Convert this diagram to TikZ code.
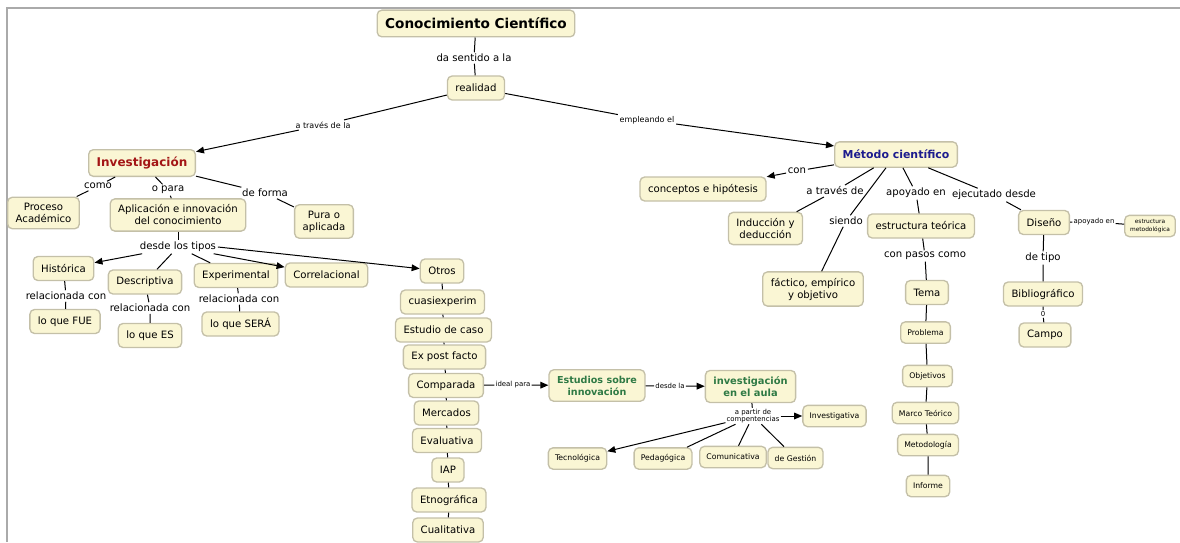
\documentclass[tikz,border=0pt]{standalone}
\usepackage{fontspec}
\setmainfont{DejaVu Sans}
\usetikzlibrary{arrows.meta}

\definecolor{cmapfill}{HTML}{FAF6D4}
\definecolor{cmapedge}{HTML}{C4C0A8}
\definecolor{cmapred}{HTML}{A31515}
\definecolor{cmapblue}{HTML}{1C1C8E}
\definecolor{cmapgreen}{HTML}{2F7A45}

\tikzset{every picture/.style={line width=0.75pt}}
\tikzset{
  concept/.style={draw=cmapedge, line width=1pt, fill=cmapfill, rounded corners=3.5pt,
    align=center, inner xsep=6pt, inner ysep=4.5pt, minimum height=18pt,
    font=\fontsize{7.6}{9}\selectfont},
  smallconcept/.style={concept, inner xsep=5pt, minimum height=16pt, font=\fontsize{5.8}{7}\selectfont},
  tinyconcept/.style={concept, inner xsep=4pt, inner ysep=3pt, minimum height=16pt, font=\fontsize{4.4}{5.4}\selectfont},
  phrase/.style={inner sep=1pt, align=center, font=\fontsize{7.6}{9}\selectfont},
  smallphrase/.style={phrase, font=\fontsize{6}{7}\selectfont},
  tinyphrase/.style={phrase, inner sep=0.5pt, font=\fontsize{5.2}{5.6}\selectfont},
  arrowlink/.style={-{Triangle[length=6pt,width=5pt]}},
}

\begin{document}
\begin{tikzpicture}[x=0.75pt,y=0.75pt,yscale=-1,xscale=1]
	\useasboundingbox (0,0) rectangle (1180,542);

	%Frame
	\draw [color={rgb,255:red,170;green,170;blue,170}, line width=1.5]  (6.5,542) -- (6.5,8) -- (1180,8) ;

	% Concept Nodes (top)
	\node [concept, font=\fontsize{10.2}{12}\bfseries, minimum height=20pt] (cc) at (476,23.5) {Conocimiento Científico};
	\node [concept] (realidad) at (476,88) {realidad};
	\node [concept, text=cmapred, font=\fontsize{9}{11}\bfseries, minimum height=20pt] (inv) at (142,163) {Investigación};
	\node [concept, text=cmapblue, font=\fontsize{8.2}{10}\bfseries, minimum height=19pt] (met) at (896,154.5) {Método científico};

	% Concept Nodes (Investigación)
	\node [concept] (proceso) at (43.5,213) {Proceso\\Académico};
	\node [concept] (aplic) at (178,215) {Aplicación e innovación\\del conocimiento};
	\node [concept] (pura) at (324,221.5) {Pura o\\aplicada};
	\node [concept] (historica) at (63.5,268.5) {Histórica};
	\node [concept] (descriptiva) at (145,282) {Descriptiva};
	\node [concept] (experimental) at (236,275.5) {Experimental};
	\node [concept] (correlacional) at (326.5,275) {Correlacional};
	\node [concept] (fue) at (65,321.5) {lo que FUE};
	\node [concept] (es) at (150,335.5) {lo que ES};
	\node [concept] (sera) at (240.5,324) {lo que SERÁ};

	% Concept Nodes (Otros)
	\node [concept] (otros) at (442,271) {Otros};
	\node [concept] (cuasi) at (442.5,302) {cuasiexperim};
	\node [concept] (caso) at (443.5,330) {Estudio de caso};
	\node [concept] (expost) at (444.5,357) {Ex post facto};
	\node [concept] (comparada) at (446,385.5) {Comparada};
	\node [concept] (mercados) at (446.5,413) {Mercados};
	\node [concept] (evaluativa) at (447,440.5) {Evaluativa};
	\node [concept] (iap) at (448,470) {IAP};
	\node [concept] (etno) at (449,500) {Etnográfica};
	\node [concept] (cuali) at (448,530) {Cualitativa};

	% Concept Nodes (innovación)
	\node [concept, text=cmapgreen, font=\fontsize{7.2}{9}\bfseries] (estudios) at (597,385.5) {Estudios sobre\\innovación};
	\node [concept, text=cmapgreen, font=\fontsize{7.4}{9}\bfseries] (aula) at (750.5,386.5) {investigación\\en el aula};
	\node [smallconcept] (investigativa) at (834.5,416) {Investigativa};
	\node [smallconcept] (tecno) at (577.5,458.5) {Tecnológica};
	\node [smallconcept] (pedag) at (663,458.5) {Pedagógica};
	\node [smallconcept] (comunic) at (733,457) {Comunicativa};
	\node [smallconcept] (gestion) at (795.5,458) {de Gestión};

	% Concept Nodes (Método científico)
	\node [concept] (hipot) at (703,189) {conceptos e hipótesis};
	\node [concept] (induc) at (765.5,228.5) {Inducción y\\deducción};
	\node [concept] (factico) at (813,289) {fáctico, empírico\\y objetivo};
	\node [concept] (estteo) at (921,226) {estructura teórica};
	\node [concept] (tema) at (927,292.5) {Tema};
	\node [smallconcept] (problema) at (925.5,332.5) {Problema};
	\node [smallconcept] (objetivos) at (927.5,376) {Objetivos};
	\node [smallconcept] (marco) at (925.5,413) {Marco Teórico};
	\node [smallconcept] (metodol) at (928,445) {Metodología};
	\node [smallconcept] (informe) at (928,486) {Informe};
	\node [concept] (diseno) at (1044,222.5) {Diseño};
	\node [tinyconcept] (estmet) at (1150,226) {estructura\\metodológica};
	\node [concept] (biblio) at (1043,294) {Bibliográfico};
	\node [concept] (campo) at (1045,335) {Campo};

	% Linking Phrases
	\node [phrase] (p-da) at (474,58) {da sentido a la};
	\node [smallphrase] (p-atraves) at (323,125) {a través de la};
	\node [smallphrase] (p-empleando) at (647,120) {empleando el};
	\node [phrase] (p-como) at (98,186) {como};
	\node [phrase] (p-opara) at (168,190) {o para};
	\node [phrase] (p-deforma) at (265,193) {de forma};
	\node [phrase] (p-desde) at (178,247) {desde los tipos};
	\node [phrase] (p-rel1) at (66,296) {relacionada con};
	\node [phrase] (p-rel2) at (150,308) {relacionada con};
	\node [phrase] (p-rel3) at (239,299) {relacionada con};
	\node [tinyphrase] (p-ideal) at (513,385) {ideal para};
	\node [tinyphrase] (p-desdela) at (670,386) {desde la};
	\node [tinyphrase] (p-apartir) at (753,416) {a partir de\\compentencias};
	\node [phrase] (p-con) at (797,171) {con};
	\node [phrase] (p-atravesde) at (835,191) {a través de};
	\node [phrase] (p-siendo) at (846,221) {siendo};
	\node [phrase] (p-apoyado) at (916,193) {apoyado en};
	\node [phrase] (p-ejecutado) at (994,195) {ejecutado desde};
	\node [phrase] (p-pasos) at (925,256) {con pasos como};
	\node [tinyphrase] (p-apoyado2) at (1094,222) {apoyado en};
	\node [phrase] (p-tipo) at (1043,258) {de tipo};
	\node [tinyphrase] (p-o) at (1043,314) {0};

	% Connectors (top)
	\draw (cc) -- (p-da) -- (realidad);
	\draw (realidad) -- (p-atraves);
	\draw [arrowlink] (p-atraves) -- (inv);
	\draw (realidad) -- (p-empleando);
	\draw [arrowlink] (p-empleando) -- (met);

	% Connectors (Investigación)
	\draw (inv) -- (p-como) -- (proceso);
	\draw (inv) -- (p-opara) -- (aplic);
	\draw (inv) -- (p-deforma) -- (pura);
	\draw (aplic) -- (p-desde);
	\draw [arrowlink] (p-desde) -- (historica);
	\draw (p-desde) -- (descriptiva);
	\draw (p-desde) -- (experimental);
	\draw [arrowlink] (p-desde) -- (correlacional);
	\draw [arrowlink] (p-desde.east) -- (otros);
	\draw (historica) -- (p-rel1) -- (fue);
	\draw (descriptiva) -- (p-rel2) -- (es);
	\draw (experimental) -- (p-rel3) -- (sera);
	\draw (otros) -- (cuasi) -- (caso) -- (expost) -- (comparada) -- (mercados) -- (evaluativa) -- (iap) -- (etno) -- (cuali);

	% Connectors (innovación)
	\draw (comparada) -- (p-ideal);
	\draw [arrowlink] (p-ideal) -- (estudios);
	\draw (estudios) -- (p-desdela);
	\draw [arrowlink] (p-desdela) -- (aula);
	\draw (aula) -- (p-apartir);
	\draw [arrowlink] (p-apartir) -- (investigativa);
	\draw [arrowlink] (p-apartir) -- (tecno);
	\draw (p-apartir) -- (pedag);
	\draw (p-apartir) -- (comunic);
	\draw (p-apartir) -- (gestion);

	% Connectors (Método científico)
	\draw (met) -- (p-con);
	\draw [arrowlink] (p-con) -- (hipot);
	\draw (met) -- (p-atravesde) -- (induc);
	\draw (met) -- (p-siendo) -- (factico);
	\draw (met) -- (p-apoyado) -- (estteo);
	\draw (met) -- (p-ejecutado) -- (diseno);
	\draw (estteo) -- (p-pasos) -- (tema) -- (problema) -- (objetivos) -- (marco) -- (metodol) -- (informe);
	\draw (diseno) -- (p-apoyado2) -- (estmet);
	\draw (diseno) -- (p-tipo) -- (biblio) -- (p-o) -- (campo);

\end{tikzpicture}
\end{document}
